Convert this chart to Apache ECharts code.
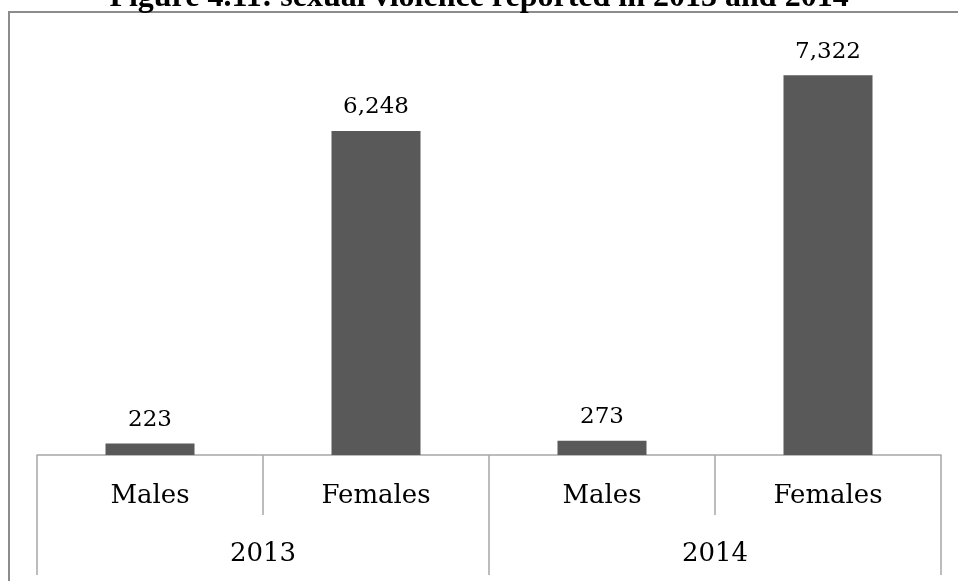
<!DOCTYPE html>
<html>
<head>
<meta charset="utf-8">
<script src="https://cdn.jsdelivr.net/npm/echarts@6/dist/echarts.min.js"></script>
<style>
  html, body { margin: 0; padding: 0; background: #fff; }
  #main { width: 958px; height: 581px; }
</style>
</head>
<body>
<div id="main"></div>
<script>
// data
var groups = ['Males', 'Females', 'Males', 'Females'];
var years = ['2013', '2014'];
var values = [223, 6248, 273, 7322];

var serif = '"DejaVu Serif", "Liberation Serif", serif';
var lineGrey = '#a6a6a6';

var myChart = echarts.init(document.getElementById('main'));

var option = {
    backgroundColor: '#fff',
    animation: false,
    title: {
        text: 'Figure 4.11: sexual violence reported in 2013 and 2014',
        left: 'center',
        top: -23,
        textStyle: {
            fontFamily: '"Liberation Serif", serif',
            fontWeight: 'bold',
            fontSize: 32,
            color: '#000'
        }
    },
    graphic: [{
        type: 'rect',
        shape: { x: 9, y: 12, width: 1000, height: 620 },
        style: { fill: 'none', stroke: '#8c8c8c', lineWidth: 2 },
        silent: true
    }],
    grid: { left: 37, right: 17, top: 40, bottom: 126 },
    xAxis: [{
        type: 'category',
        data: groups,
        position: 'bottom',
        axisLine: { show: true, lineStyle: { color: lineGrey, width: 1.5 } },
        axisTick: { show: true, length: 60, interval: 0, lineStyle: { color: lineGrey, width: 1.5 } },
        axisLabel: { margin: 28, fontFamily: serif, fontSize: 26, color: '#000' }
    }, {
        type: 'category',
        data: years,
        position: 'bottom',
        axisLine: { show: false },
        axisTick: { show: true, length: 120, interval: 0, lineStyle: { color: lineGrey, width: 1.5 } },
        axisLabel: { margin: 86, fontFamily: serif, fontSize: 26, color: '#000' }
    }],
    yAxis: {
        type: 'value',
        min: 0,
        max: 8000,
        show: false,
        splitLine: { show: false }
    },
    series: [{
        type: 'bar',
        xAxisIndex: 0,
        data: values,
        barWidth: 89,
        itemStyle: { color: '#595959' },
        label: {
            show: true,
            position: 'top',
            distance: 12,
            fontFamily: serif,
            fontSize: 23,
            color: '#000',
            formatter: function (p) { return p.value.toLocaleString('en-US'); }
        }
    }]
};

myChart.setOption(option);
</script>
</body>
</html>
